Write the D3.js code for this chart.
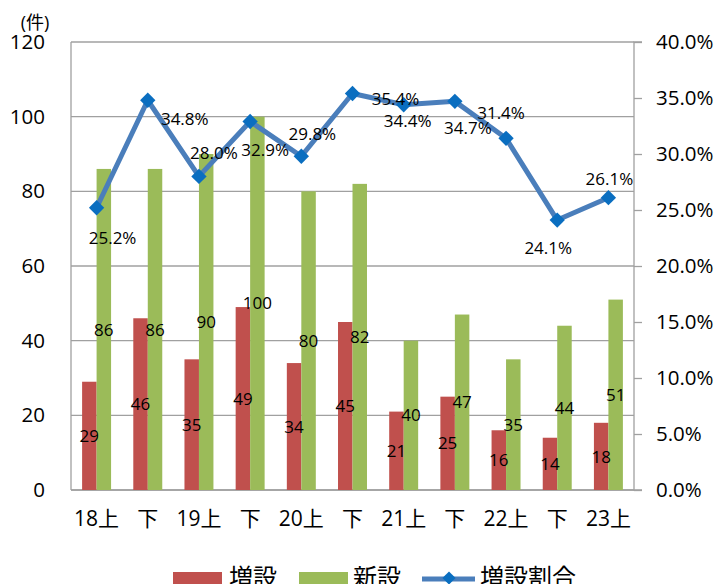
<!DOCTYPE html>
<html><head><meta charset="utf-8">
<script src="https://cdn.jsdelivr.net/npm/d3@7"></script>
<style>
html,body{margin:0;padding:0;background:#fff;overflow:hidden}
svg{display:block}
text{font-family:"Open Sans","Noto Sans CJK JP",sans-serif;fill:#000}
</style></head>
<body>
<svg id="chart" width="722" height="584"></svg>
<script>
const categories = ["18上","下","19上","下","20上","下","21上","下","22上","下","23上"];
const zousetsu = [29,46,35,49,34,45,21,25,16,14,18];
const shinsetsu = [86,86,90,100,80,82,40,47,35,44,51];
const ratio = [0.252,0.348,0.280,0.329,0.298,0.354,0.344,0.347,0.314,0.241,0.261];
const leftTicks = [0,20,40,60,80,100,120];
const rightTicks = [0,0.05,0.10,0.15,0.20,0.25,0.30,0.35,0.40];
const seriesNames = ["増設","新設","増設割合"];
// label placement offsets (layout only)
const ratioLabelOffsets = [[16,30],[37,19],[15,-24],[15,28],[11,-22],[43,5],[4,16],[13,27],[-5,-25],[-9,28],[1,-19]];

const RED="#C0504D", GREEN="#9BBB59", LINE="#4A7EBB", MARK="#0A6EC0", GRID="#A0A0A0";
const L=71, R=634, T=42, B=490;
const svg = d3.select("#chart");

const x = d3.scaleBand().domain(d3.range(categories.length)).range([L,R]).padding(0);
const y = d3.scaleLinear().domain([0,120]).range([B,T]);
const yR = d3.scaleLinear().domain([0,0.4]).range([B,T]);
const bw = x.bandwidth()*0.283;
const cx = i => x(i)+x.bandwidth()/2;

// gridlines
svg.append("g").selectAll("line").data(leftTicks).join("line")
  .attr("x1",L).attr("x2",R).attr("y1",d=>y(d)).attr("y2",d=>y(d))
  .attr("stroke",GRID).attr("stroke-width",1.3);
// left axis line
svg.append("line").attr("x1",L).attr("x2",L).attr("y1",T).attr("y2",B).attr("stroke",GRID).attr("stroke-width",1.3);

// left axis labels
const gl = svg.append("g").attr("transform",`translate(${L},0)`)
  .call(d3.axisLeft(y).tickValues(leftTicks).tickSize(0).tickPadding(26).tickFormat(d3.format("d")));
gl.select(".domain").remove();
gl.selectAll("text").style("font-size","20.5px").style("font-family","Open Sans");

// right axis
const gr = svg.append("g").attr("transform",`translate(${R},0)`)
  .call(d3.axisRight(yR).tickValues(rightTicks).tickSize(8).tickPadding(14).tickFormat(d3.format(".1%")));
gr.select(".domain").attr("stroke",GRID).attr("stroke-width",1.3).attr("d",`M8,${B}H0V${T}H8`);
gr.selectAll(".tick line").attr("stroke",GRID).attr("stroke-width",1.3);
gr.selectAll("text").style("font-size","20.5px").style("font-family","Open Sans");

// bottom axis line
svg.append("line").attr("x1",L).attr("x2",R).attr("y1",B).attr("y2",B).attr("stroke",GRID).attr("stroke-width",1.3);

// x labels
svg.append("g").selectAll("text").data(categories).join("text")
  .attr("x",(d,i)=>cx(i)).attr("y",526).attr("text-anchor","middle")
  .style("font-size","21px").text(d=>d);

// unit label
svg.append("text").attr("x",35).attr("y",29).attr("text-anchor","middle").style("font-size","18px").text("(件)");

// bars
svg.append("g").selectAll("rect").data(zousetsu).join("rect")
  .attr("x",(d,i)=>cx(i)-bw).attr("width",bw).attr("y",d=>y(d)).attr("height",d=>B-y(d)).attr("fill",RED);
svg.append("g").selectAll("rect").data(shinsetsu).join("rect")
  .attr("x",(d,i)=>cx(i)).attr("width",bw).attr("y",d=>y(d)).attr("height",d=>B-y(d)).attr("fill",GREEN);

// bar labels
svg.append("g").selectAll("text").data(zousetsu).join("text")
  .attr("x",(d,i)=>cx(i)-bw/2).attr("y",d=>(y(d)+B)/2).attr("dy","0.36em").attr("text-anchor","middle")
  .style("font-size","17px").text(d=>d);
svg.append("g").selectAll("text").data(shinsetsu).join("text")
  .attr("x",(d,i)=>cx(i)+bw/2).attr("y",d=>(y(d)+B)/2).attr("dy","0.36em").attr("text-anchor","middle")
  .style("font-size","17px").text(d=>d);

// line
const line = d3.line().x((d,i)=>cx(i)).y(d=>yR(d));
svg.append("path").datum(ratio).attr("d",line).attr("fill","none").attr("stroke",LINE).attr("stroke-width",5).attr("stroke-linejoin","round");
const diamond = d3.symbol().type(d3.symbolDiamond2).size(150);
svg.append("g").selectAll("path").data(ratio).join("path")
  .attr("transform",(d,i)=>`translate(${cx(i)},${yR(d)})`).attr("d",diamond).attr("fill",MARK);

// line labels
svg.append("g").selectAll("text").data(ratio).join("text")
  .attr("x",(d,i)=>cx(i)+ratioLabelOffsets[i][0]).attr("y",(d,i)=>yR(d)+ratioLabelOffsets[i][1])
  .attr("dy","0.36em").attr("text-anchor","middle").style("font-size","17px")
  .text(d=>d3.format(".1%")(d));

// legend
const lg = svg.append("g");
lg.append("rect").attr("x",173).attr("y",572).attr("width",49).attr("height",20).attr("fill",RED);
lg.append("text").attr("x",229).attr("y",586).style("font-size","24px").style("font-family","Noto Sans CJK JP").text(seriesNames[0]);
lg.append("rect").attr("x",299).attr("y",572).attr("width",49).attr("height",20).attr("fill",GREEN);
lg.append("text").attr("x",353).attr("y",586).style("font-size","24px").style("font-family","Noto Sans CJK JP").text(seriesNames[1]);
lg.append("line").attr("x1",422).attr("x2",475).attr("y1",579).attr("y2",579).attr("stroke",LINE).attr("stroke-width",5);
lg.append("path").attr("transform","translate(449,578)").attr("d",d3.symbol().type(d3.symbolDiamond2).size(110)).attr("fill",MARK);
lg.append("text").attr("x",480).attr("y",586).style("font-size","24px").style("font-family","Noto Sans CJK JP").text(seriesNames[2]);
</script>
</body></html>
